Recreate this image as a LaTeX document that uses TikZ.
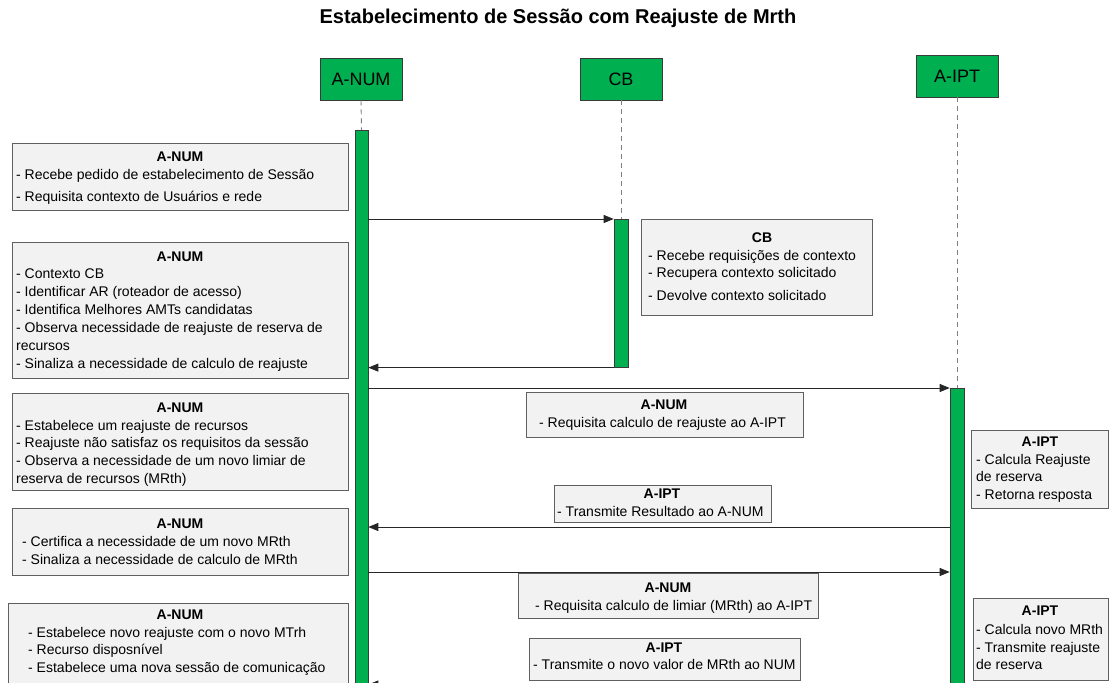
\documentclass[tikz,border=0pt]{standalone}
\usepackage{fontspec}
\setmainfont{Liberation Sans}
\usetikzlibrary{arrows.meta}
\definecolor{actgreen}{HTML}{00B050}
\definecolor{actbd}{HTML}{3A3A3A}
\definecolor{notebg}{HTML}{F2F2F2}
\definecolor{notebd}{HTML}{606060}
\definecolor{lifegray}{HTML}{7F7F7F}
\tikzset{
  note/.style={draw=notebd, fill=notebg, line width=0.9pt, inner sep=0pt, anchor=north west},
  notetitle/.style={font=\bfseries\fontsize{14}{17}\selectfont, inner sep=0pt, anchor=base},
  bodyline/.style={font=\fontsize{14}{17}\selectfont, inner sep=0pt, anchor=base west},
  actor/.style={draw=actbd, fill=actgreen, line width=0.8pt, minimum width=82pt, minimum height=42pt,
    font=\fontsize{18}{20}\selectfont, inner sep=0pt},
  actbar/.style={draw=actbd, fill=actgreen, line width=0.6pt, inner sep=0pt, anchor=north},
  life/.style={draw=lifegray, line width=0.9pt, dash pattern=on 5pt off 4pt},
  msg/.style={-{Triangle[length=10pt,width=8pt]}, draw=black!85, line width=0.8pt}
}
% body lines of a note: prefix, left x, list of {first-line y centre / text}
\newcommand\notelines[3]{%
  \foreach \lny/\lnt [count=\i] in {#3} {\node[bodyline] (#1-\i) at (#2,\lny+5) {\lnt};}}
\begin{document}
\begin{tikzpicture}[x=1pt,y=-1pt]
\useasboundingbox (0,0) rectangle (1109,683);

% title
\node[font=\bfseries\fontsize{20}{24}\selectfont, inner sep=0pt] (title) at (558,18)
  {Estabelecimento de Sessão com Reajuste de Mrth};

% participants
\node[actor] (anum) at (361,79) {A-NUM};
\node[actor] (cb) at (621,79) {CB};
\node[actor] (aipt) at (957,76) {A-IPT};

% activation bars
\node[actbar, minimum width=13pt, minimum height=570pt] (anumbar) at (361.5,130) {};
\node[actbar, minimum width=14pt, minimum height=148pt] (cbbar) at (621,219) {};
\node[actbar, minimum width=14pt, minimum height=310pt] (aiptbar) at (957,388) {};

% lifelines
\draw[life] (anum.south) -- (anumbar.north);
\draw[life] (cb.south) -- (cbbar.north);
\draw[life] (aipt.south) -- (aiptbar.north);

% messages
\coordinate (y4) at (0,527);
\coordinate (y5) at (0,572);
\coordinate (y6) at (0,684.5);
\draw[msg] (anumbar.east |- cbbar.north) -- (cbbar.north west);
\draw[msg] (cbbar.south west) -- (anumbar.east |- cbbar.south);
\draw[msg] (anumbar.east |- aiptbar.north) -- (aiptbar.north west);
\draw[msg] (aiptbar.west |- y4) -- (anumbar.east |- y4);
\draw[msg] (anumbar.east |- y5) -- (aiptbar.west |- y5);
\draw[msg] (aiptbar.west |- y6) -- (anumbar.east |- y6);

% notes on the A-NUM side
\node[note, minimum width=336pt, minimum height=67pt] (n1) at (12,143) {};
\node[notetitle] (n1t) at (180,156+5) {A-NUM};
\notelines{n1}{16}{174/{- Recebe pedido de estabelecimento de Sessão}, 196/{- Requisita contexto de Usuários e rede}}

\node[note, minimum width=336pt, minimum height=136pt] (n2) at (12,242) {};
\node[notetitle] (n2t) at (180,256+5) {A-NUM};
\notelines{n2}{16}{273/{- Contexto CB}, 291/{- Identificar AR (roteador de acesso)}, 309/{- Identifica Melhores AMTs candidatas},
  327/{- Observa necessidade de reajuste de reserva de}, 345/{recursos}, 363/{- Sinaliza a necessidade de calculo de reajuste}}

\node[note, minimum width=336pt, minimum height=97pt] (n3) at (12,393) {};
\node[notetitle] (n3t) at (180,407+5) {A-NUM};
\notelines{n3}{16}{425/{- Estabelece um reajuste de recursos}, 442/{- Reajuste não satisfaz os requisitos da sessão},
  460/{- Observa a necessidade de um novo limiar de}, 478/{reserva de recursos (MRth)}}

\node[note, minimum width=336pt, minimum height=67pt] (n4) at (12,508) {};
\node[notetitle] (n4t) at (180,523+5) {A-NUM};
\notelines{n4}{22}{541/{- Certifica a necessidade de um novo MRth}, 559/{- Sinaliza a necessidade de calculo de MRth}}

\node[note, minimum width=340pt, minimum height=100pt] (n5) at (8,603) {};
\node[notetitle] (n5t) at (180,614+5) {A-NUM};
\notelines{n5}{28}{632/{- Estabelece novo reajuste com o novo MTrh}, 649/{- Recurso disposnível}, 667/{- Estabelece uma nova sessão de comunicação}}

% note on the CB side
\node[note, minimum width=231pt, minimum height=96pt] (c1) at (641,219) {};
\node[notetitle] (c1t) at (762,237+5) {CB};
\notelines{c1}{648}{255/{- Recebe requisições de contexto}, 272/{- Recupera contexto solicitado}, 295/{- Devolve contexto solicitado}}

% notes on the messages
\node[note, minimum width=277pt, minimum height=45pt] (m1) at (526,392) {};
\node[notetitle] (m1t) at (664,404+5) {A-NUM};
\notelines{m1}{539}{422/{- Requisita calculo de reajuste ao A-IPT}}

\node[note, minimum width=217pt, minimum height=37pt] (m2) at (554,485) {};
\node[notetitle] (m2t) at (662,493+5) {A-IPT};
\notelines{m2}{557}{511/{- Transmite Resultado ao A-NUM}}

\node[note, minimum width=300pt, minimum height=45pt] (m3) at (518,573) {};
\node[notetitle] (m3t) at (668,587+5) {A-NUM};
\notelines{m3}{535}{605/{- Requisita calculo de limiar (MRth) ao A-IPT}}

\node[note, minimum width=271pt, minimum height=42pt] (m4) at (529,638) {};
\node[notetitle] (m4t) at (664,647+5) {A-IPT};
\notelines{m4}{533}{664/{- Transmite o novo valor de MRth ao NUM}}

% notes on the A-IPT side
\node[note, minimum width=137pt, minimum height=78pt] (r1) at (971,430) {};
\node[notetitle] (r1t) at (1040,441+5) {A-IPT};
\notelines{r1}{976}{459/{- Calcula Reajuste}, 476/{de reserva}, 494/{- Retorna resposta}}

\node[note, minimum width=135pt, minimum height=82pt] (r2) at (973,598) {};
\node[notetitle] (r2t) at (1040,610+5) {A-IPT};
\notelines{r2}{976}{629/{- Calcula novo MRth}, 647/{- Transmite reajuste}, 664/{de reserva}}
\end{tikzpicture}
\end{document}
